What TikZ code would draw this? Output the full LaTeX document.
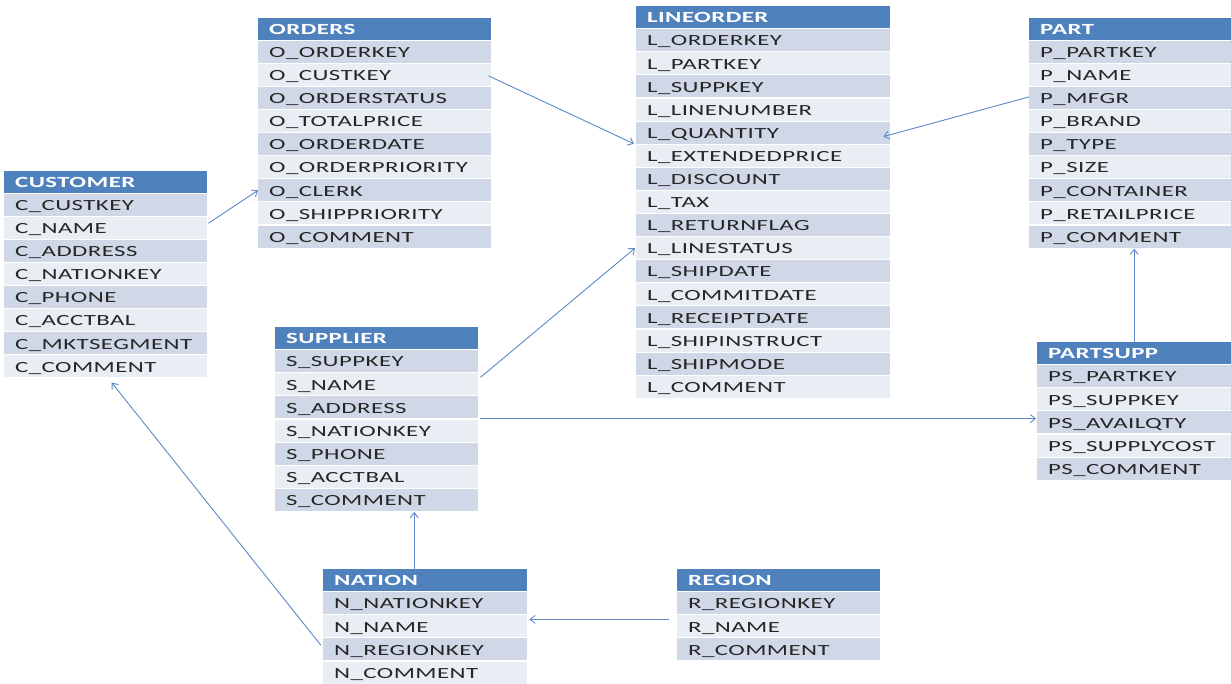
\documentclass[tikz,border=0pt]{standalone}
\usepackage{fontspec}
\setmainfont{Carlito}[FakeStretch=1.6, LetterSpace=3]
\usetikzlibrary{arrows.meta}
\definecolor{hdrblue}{HTML}{4F81BD}
\definecolor{rowdark}{HTML}{D0D8E8}
\definecolor{rowlight}{HTML}{E9EDF4}
\definecolor{linkblue}{HTML}{5B8AC6}

\tikzset{
  tabcell/.style={anchor=north west, inner sep=0pt, align=left,
    minimum height=22pt, text height=12pt, text depth=0.5pt,
    font=\fontsize{15.5}{18}\selectfont},
  hdrcell/.style={tabcell, fill=hdrblue, text=white,
    font=\fontsize{15.5}{18}\selectfont\bfseries},
  fldcell/.style={tabcell, text=black!85},
  fk/.style={draw=linkblue, line width=0.9pt,
    -{Straight Barb[length=5pt,width=8pt,line width=0.9pt]}}
}

% #1 id, #2 x, #3 top y, #4 width, #5 title, #6 fields
\newcommand\dbtable[6]{%
  \node[hdrcell, text width=#4pt] (#1-h) at (#2,#3) {\hspace*{11pt}#5};
  \foreach \f [count=\i] in {#6} {%
    \pgfmathsetmacro\ry{#3+23+(\i-1)*23.1}%
    \ifodd\i \def\rc{rowdark}\else\def\rc{rowlight}\fi
    \node[fldcell, text width=#4pt, fill=\rc] (#1-\i) at (#2,\ry) {\hspace*{11pt}\f};
  }%
}

\begin{document}
\begin{tikzpicture}[x=1pt,y=-1pt]
\useasboundingbox[fill=white] (0,0) rectangle (1231,683);

\dbtable{cust}{4}{170.5}{203}{CUSTOMER}{C\_CUSTKEY,C\_NAME,C\_ADDRESS,C\_NATIONKEY,C\_PHONE,C\_ACCTBAL,C\_MKTSEGMENT,C\_COMMENT}
\dbtable{ords}{258}{17.5}{233}{ORDERS}{O\_ORDERKEY,O\_CUSTKEY,O\_ORDERSTATUS,O\_TOTALPRICE,O\_ORDERDATE,O\_ORDERPRIORITY,O\_CLERK,O\_SHIPPRIORITY,O\_COMMENT}
\dbtable{line}{636}{6}{254}{LINEORDER}{L\_ORDERKEY,L\_PARTKEY,L\_SUPPKEY,L\_LINENUMBER,L\_QUANTITY,L\_EXTENDEDPRICE,L\_DISCOUNT,L\_TAX,L\_RETURNFLAG,L\_LINESTATUS,L\_SHIPDATE,L\_COMMITDATE,L\_RECEIPTDATE,L\_SHIPINSTRUCT,L\_SHIPMODE,L\_COMMENT}
\dbtable{part}{1029}{17.5}{202}{PART}{P\_PARTKEY,P\_NAME,P\_MFGR,P\_BRAND,P\_TYPE,P\_SIZE,P\_CONTAINER,P\_RETAILPRICE,P\_COMMENT}
\dbtable{ps}{1037}{342}{194}{PARTSUPP}{PS\_PARTKEY,PS\_SUPPKEY,PS\_AVAILQTY,PS\_SUPPLYCOST,PS\_COMMENT}
\dbtable{supp}{275}{327}{203}{SUPPLIER}{S\_SUPPKEY,S\_NAME,S\_ADDRESS,S\_NATIONKEY,S\_PHONE,S\_ACCTBAL,S\_COMMENT}
\dbtable{nat}{323}{569}{204}{NATION}{N\_NATIONKEY,N\_NAME,N\_REGIONKEY,N\_COMMENT}
\dbtable{reg}{677}{569}{203}{REGION}{R\_REGIONKEY,R\_NAME,R\_COMMENT}

% foreign-key links
\draw[fk] ([xshift=1pt,yshift=4.5pt]cust-2.east) -- (ords-7.west);
\draw[fk] ([xshift=-3pt,yshift=-1pt]ords-2.east) -- ([xshift=-2pt]line-5.south west);
\draw[fk] ([yshift=1pt]part-3.west) -- ([xshift=-7pt,yshift=-4pt]line-5.east);
\draw[fk] ([xshift=2pt,yshift=-5pt]supp-1.south east) -- ([xshift=-1pt]line-10.west);
\draw[fk] ([xshift=2pt]supp-3.south east) -- ([xshift=-1pt]supp-3.south east -| ps-3.west);
\draw[fk] (ps-h.north) -- ([yshift=-1pt]ps-h.north |- part-9.south);
\draw[fk] ([xshift=-11pt]nat-h.north) -- ([xshift=-11pt,yshift=-1pt]nat-h.north |- supp-7.south);
\draw[fk] ([xshift=-2pt,yshift=4pt]nat-3.west) -- ([xshift=6pt,yshift=-5pt]cust-8.south);
\draw[fk] ([xshift=-8pt,yshift=-5pt]reg-1.south west) -- ([xshift=2pt,yshift=-5pt]nat-1.south east);
\end{tikzpicture}
\end{document}
